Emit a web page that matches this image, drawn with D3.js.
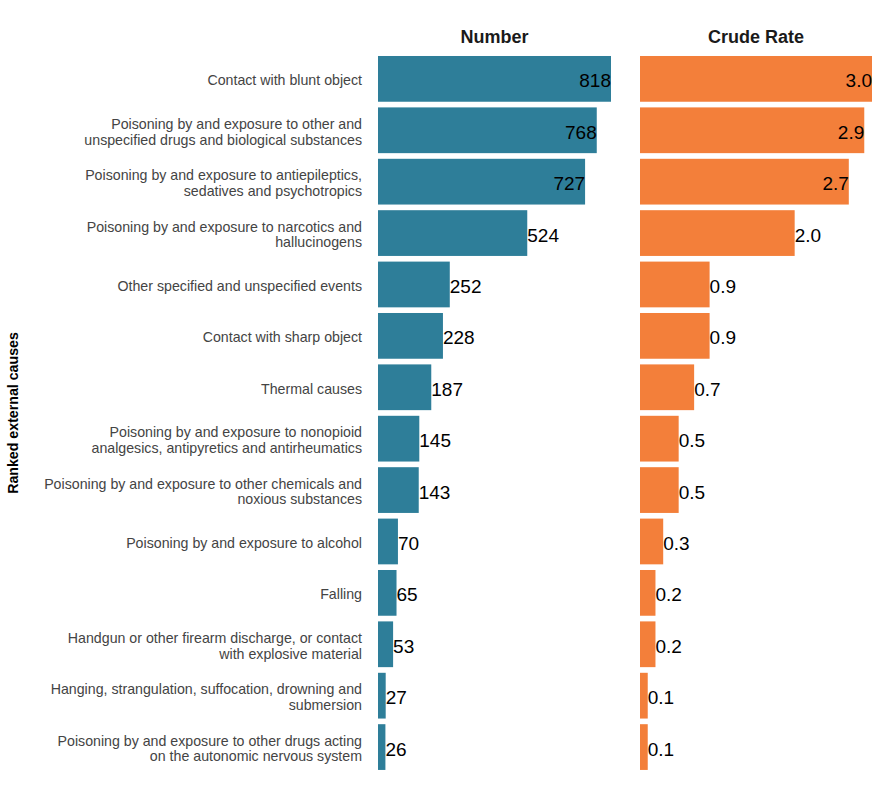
<!DOCTYPE html>
<html>
<head>
<meta charset="utf-8">
<script src="https://cdn.jsdelivr.net/npm/d3@7"></script>
<style>
  body { margin: 0; background: #fff; }
  text { font-family: "Liberation Sans", Arial, sans-serif; }
</style>
</head>
<body>
<svg id="chart" width="890" height="800"></svg>
<script>
const categories = [
  "Contact with blunt object",
  "Poisoning by and exposure to other and\nunspecified drugs and biological substances",
  "Poisoning by and exposure to antiepileptics,\nsedatives and psychotropics",
  "Poisoning by and exposure to narcotics and\nhallucinogens",
  "Other specified and unspecified events",
  "Contact with sharp object",
  "Thermal causes",
  "Poisoning by and exposure to nonopioid\nanalgesics, antipyretics and antirheumatics",
  "Poisoning by and exposure to other chemicals and\nnoxious substances",
  "Poisoning by and exposure to alcohol",
  "Falling",
  "Handgun or other firearm discharge, or contact\nwith explosive material",
  "Hanging, strangulation, suffocation, drowning and\nsubmersion",
  "Poisoning by and exposure to other drugs acting\non the autonomic nervous system"
];
const numbers = [818, 768, 727, 524, 252, 228, 187, 145, 143, 70, 65, 53, 27, 26];
const rates = [3.0, 2.9, 2.7, 2.0, 0.9, 0.9, 0.7, 0.5, 0.5, 0.3, 0.2, 0.2, 0.1, 0.1];
const panelTitles = ["Number", "Crude Rate"];
const yAxisTitle = "Ranked external causes";

const svg = d3.select("#chart");

const y = d3.scaleBand()
  .domain(categories)
  .range([53.17, 772.77])
  .paddingInner(0.11)
  .paddingOuter(0.055);

const panels = [
  { title: panelTitles[0], values: numbers, x0: 378, width: 233, max: 818, color: "#2E7E99", fmt: d3.format("d"), inside: v => v > 600 },
  { title: panelTitles[1], values: rates, x0: 640, width: 232, max: 3.0, color: "#F37F3A", fmt: d3.format(".1f"), inside: v => v > 2.5 }
];

panels.forEach(p => {
  const x = d3.scaleLinear().domain([0, p.max]).range([p.x0, p.x0 + p.width]);
  const g = svg.append("g");
  g.append("text")
    .attr("x", p.x0 + p.width / 2)
    .attr("y", 43)
    .attr("text-anchor", "middle")
    .attr("font-size", 18)
    .attr("font-weight", "bold")
    .attr("fill", "#1a1a1a")
    .text(p.title);

  const rows = g.selectAll("g.row")
    .data(categories.map((c, i) => ({ c, v: p.values[i] })))
    .join("g").attr("class", "row");

  rows.append("rect")
    .attr("x", x(0))
    .attr("y", d => y(d.c))
    .attr("width", d => x(d.v) - x(0))
    .attr("height", y.bandwidth())
    .attr("fill", p.color);

  rows.append("text")
    .attr("x", d => x(d.v))
    .attr("y", d => y(d.c) + y.bandwidth() / 2 + 8.5)
    .attr("text-anchor", d => p.inside(d.v) ? "end" : "start")
    .attr("font-size", 19)
    .attr("fill", "#000")
    .text(d => p.fmt(d.v));
});

// category labels
const labels = svg.append("g");
categories.forEach(c => {
  const lines = c.split("\n");
  const cy = y(c) + y.bandwidth() / 2;
  const lh = 15.5;
  const t = labels.append("text")
    .attr("text-anchor", "end")
    .attr("font-size", 14.2)
    .attr("fill", "#444444");
  lines.forEach((ln, k) => {
    t.append("tspan")
      .attr("x", 362)
      .attr("y", cy + 6.5 + (k - (lines.length - 1) / 2) * lh)
      .text(ln);
  });
});

svg.append("text")
  .attr("transform", `translate(18, ${(56 + 770) / 2}) rotate(-90)`)
  .attr("text-anchor", "middle")
  .attr("font-size", 14.2)
  .attr("font-weight", "bold")
  .attr("fill", "#000")
  .text(yAxisTitle);
</script>
</body>
</html>
